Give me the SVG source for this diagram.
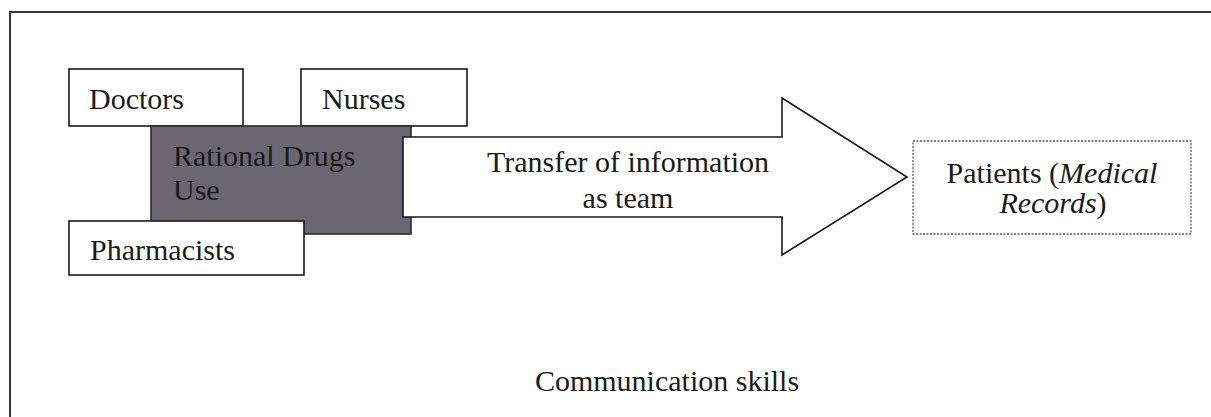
<svg xmlns="http://www.w3.org/2000/svg" width="1211" height="417" viewBox="0 0 1211 417">
  <style>
    .t { font-family: 'Liberation Serif', 'Times New Roman', Times, 'DejaVu Serif', serif; font-size: 30px; fill: #1a1a1a; }
    .box { fill: #ffffff; stroke: #1a1a1a; stroke-width: 1.6; }
  </style>
  <rect x="0" y="0" width="1211" height="417" fill="#ffffff"/>
  <g id="frame">
    <path d="M10 417 L10 12 L1211 12" fill="none" stroke="#333333" stroke-width="2"/>
  </g>
  <g id="doctors">
    <rect class="box" x="69" y="69" width="174" height="57"/>
    <text class="t" font-family="Liberation Serif, Times New Roman, DejaVu Serif, serif" x="89" y="109">Doctors</text>
  </g>
  <g id="nurses">
    <rect class="box" x="301" y="69" width="166" height="57"/>
    <text class="t" font-family="Liberation Serif, Times New Roman, DejaVu Serif, serif" x="322" y="109">Nurses</text>
  </g>
  <g id="rational">
    <rect x="151" y="126" width="260" height="108" fill="#6a6772" stroke="#2a2a2e" stroke-width="1.6"/>
    <text class="t" font-family="Liberation Serif, Times New Roman, DejaVu Serif, serif" x="173" y="166">Rational Drugs</text>
    <text class="t" font-family="Liberation Serif, Times New Roman, DejaVu Serif, serif" x="173" y="200">Use</text>
  </g>
  <g id="pharmacists">
    <rect class="box" x="69" y="221" width="235" height="54"/>
    <text class="t" font-family="Liberation Serif, Times New Roman, DejaVu Serif, serif" x="90" y="260">Pharmacists</text>
  </g>
  <g id="connectors">
    <polygon points="403,137 782,137 782,98 907,177 782,255 782,217 403,217" fill="#ffffff" stroke="#1a1a1a" stroke-width="1.6" stroke-linejoin="miter"/>
    <text class="t" font-family="Liberation Serif, Times New Roman, DejaVu Serif, serif" x="628" y="172" text-anchor="middle">Transfer of information</text>
    <text class="t" font-family="Liberation Serif, Times New Roman, DejaVu Serif, serif" x="628" y="208" text-anchor="middle">as team</text>
  </g>
  <g id="patients">
    <rect x="913" y="141" width="278" height="93" fill="#ffffff" stroke="#555555" stroke-width="1.3" stroke-dasharray="2 1.5"/>
    <text class="t" font-family="Liberation Serif, Times New Roman, DejaVu Serif, serif" x="1052" y="183" text-anchor="middle">Patients (<tspan font-style="italic">Medical</tspan></text>
    <text class="t" font-family="Liberation Serif, Times New Roman, DejaVu Serif, serif" x="1053" y="213" text-anchor="middle"><tspan font-style="italic">Records</tspan>)</text>
  </g>
  <g id="communication">
    <text class="t" font-family="Liberation Serif, Times New Roman, DejaVu Serif, serif" x="667" y="391" text-anchor="middle">Communication skills</text>
  </g>
</svg>
